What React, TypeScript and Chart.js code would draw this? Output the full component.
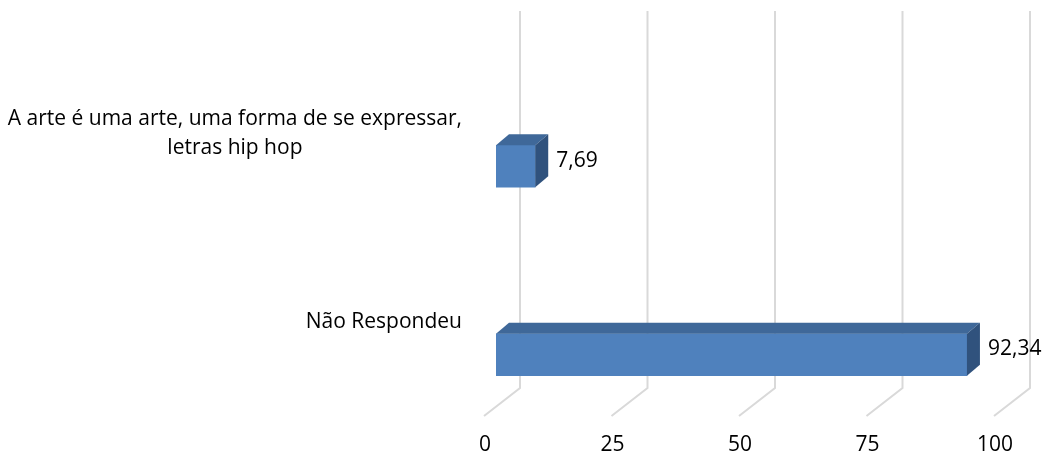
import React, { useEffect, useRef } from "react";
import { Chart, registerables } from "chart.js";

Chart.register(...registerables);

const CATEGORIES: (string | string[])[] = [
  ["A arte é uma arte, uma forma de se expressar,", "letras hip hop"],
  "Não Respondeu",
];
const VALUES: number[] = [7.69, 92.34];
const TICKS: number[] = [0, 25, 50, 75, 100];

const FONT = '21px "Open Sans"';
const FRONT = "#4F81BD";
const TOP = "#3F6899";
const SIDE = "#30527D";
const GRID = "#D9D9D9";

const DEPTH_X = 13;
const DEPTH_Y = -11;

const threeD = {
  id: "threeD",
  beforeDatasetsDraw(chart: any) {
    const ctx = chart.ctx;
    const xs = chart.scales.x;
    ctx.save();
    ctx.strokeStyle = GRID;
    ctx.lineWidth = 2;
    ctx.font = FONT;
    ctx.fillStyle = "#000";
    ctx.textAlign = "center";
    ctx.textBaseline = "middle";
    TICKS.forEach((t) => {
      const px = xs.getPixelForValue(t);
      const bx = px + 24;
      ctx.beginPath();
      ctx.moveTo(bx, 11);
      ctx.lineTo(bx, 388);
      ctx.lineTo(px - 12, 416);
      ctx.stroke();
      ctx.fillText(String(t), px - 11, 445);
    });
    ctx.restore();
  },
  afterDatasetsDraw(chart: any) {
    const ctx = chart.ctx;
    const meta = chart.getDatasetMeta(0);
    const ys = chart.scales.y;
    ctx.save();
    meta.data.forEach((bar: any, i: number) => {
      const p = bar.getProps(["x", "y", "base", "height"], true);
      const top = p.y - p.height / 2;
      const bottom = p.y + p.height / 2;
      const left = p.base;
      const right = p.x;
      ctx.fillStyle = TOP;
      ctx.beginPath();
      ctx.moveTo(left, top);
      ctx.lineTo(right, top);
      ctx.lineTo(right + DEPTH_X, top + DEPTH_Y);
      ctx.lineTo(left + DEPTH_X, top + DEPTH_Y);
      ctx.closePath();
      ctx.fill();
      ctx.fillStyle = SIDE;
      ctx.beginPath();
      ctx.moveTo(right, top);
      ctx.lineTo(right + DEPTH_X, top + DEPTH_Y);
      ctx.lineTo(right + DEPTH_X, bottom + DEPTH_Y);
      ctx.lineTo(right, bottom);
      ctx.closePath();
      ctx.fill();
      ctx.font = FONT;
      ctx.fillStyle = "#000";
      ctx.textAlign = "left";
      ctx.textBaseline = "middle";
      ctx.fillText(
        VALUES[i].toFixed(2).replace(".", ","),
        right + DEPTH_X + 8,
        p.y + DEPTH_Y / 2
      );
    });
    ctx.font = FONT;
    ctx.fillStyle = "#000";
    ctx.textAlign = "center";
    ctx.textBaseline = "middle";
    CATEGORIES.forEach((c, i) => {
      const lines = Array.isArray(c) ? c : [c];
      const maxW = Math.max(...lines.map((l) => ctx.measureText(l).width));
      const cx = 462 - maxW / 2;
      const cy = ys.getPixelForValue(i) - 33;
      const lh = 29;
      lines.forEach((l, k) => {
        ctx.fillText(l, cx, cy + (k - (lines.length - 1) / 2) * lh);
      });
    });
    ctx.restore();
  },
};

export default function App() {
  const ref = useRef<HTMLCanvasElement | null>(null);
  useEffect(() => {
    document.body.style.margin = "0";
    if (!ref.current) return;
    const chart = new Chart(ref.current, {
      type: "bar",
      data: {
        labels: CATEGORIES as any,
        datasets: [
          {
            data: VALUES,
            backgroundColor: FRONT,
            borderWidth: 0,
            barThickness: 42,
          },
        ],
      },
      options: {
        indexAxis: "y",
        responsive: false,
        animation: false,
        devicePixelRatio: 1,
        layout: { padding: { left: 496, right: 42, top: 72, bottom: 6 } },
        plugins: { legend: { display: false }, tooltip: { enabled: false } },
        scales: {
          x: { type: "linear", min: 0, max: 100, display: false },
          y: { display: false },
        },
      },
      plugins: [threeD],
    });
    return () => chart.destroy();
  }, []);
  return (
    <div style={{ width: 1048, height: 455, background: "#fff" }}>
      <canvas ref={ref} width={1048} height={455} />
    </div>
  );
}
